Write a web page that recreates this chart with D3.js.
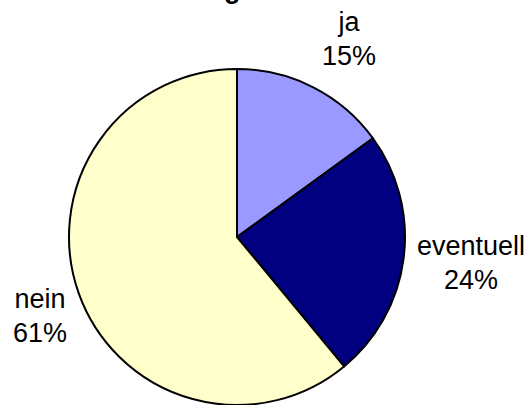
<!DOCTYPE html>
<html>
<head>
<meta charset="utf-8">
<script src="https://cdn.jsdelivr.net/npm/d3@7"></script>
<style>
  body { margin: 0; background: #fff; }
  text { font-family: "Liberation Sans", Arial, sans-serif; }
</style>
</head>
<body>
<div id="chart"></div>
<script>
// chart data
const categories = ["ja", "eventuell", "nein"];
const shares = [15, 24, 61];
const colors = ["#9999FF", "#000080", "#FFFFCC"];

const width = 531;
const height = 405;
const cx = 237, cy = 237, radius = 168;

// label anchor points, relative to pie centre (excel puts them outside)
const labelPos = [[112, -206], [234, 18], [-197, 71]];

const svg = d3.select("#chart")
  .append("svg")
  .attr("width", width)
  .attr("height", height);

// title, mostly cut off at the top of the picture
svg.append("text")
  .attr("x", 146)
  .attr("y", -2.5)
  .attr("font-size", "27px")
  .attr("font-weight", "bold")
  .text("Umfrage");

const pie = d3.pie().sort(null).value(d => d);
const arc = d3.arc().innerRadius(0).outerRadius(radius);

const g = svg.append("g")
  .attr("transform", `translate(${cx},${cy})`);

g.selectAll("path")
  .data(pie(shares))
  .enter()
  .append("path")
    .attr("d", arc)
    .attr("fill", (d, i) => colors[i])
    .attr("stroke", "#000")
    .attr("stroke-width", 2)
    .attr("stroke-linejoin", "round");

// labels: name on first line, percent on second
const labels = g.selectAll(".lbl")
  .data(categories)
  .enter()
  .append("text")
    .attr("class", "lbl")
    .attr("text-anchor", "middle")
    .attr("font-size", "27px")
    .attr("fill", "#000")
    .attr("transform", (d, i) => `translate(${labelPos[i][0]},${labelPos[i][1]})`);

labels.append("tspan")
  .attr("x", 0)
  .attr("y", 0)
  .text(d => d);

labels.append("tspan")
  .attr("x", 0)
  .attr("y", 34)
  .text((d, i) => shares[i] + "%");
</script>
</body>
</html>
